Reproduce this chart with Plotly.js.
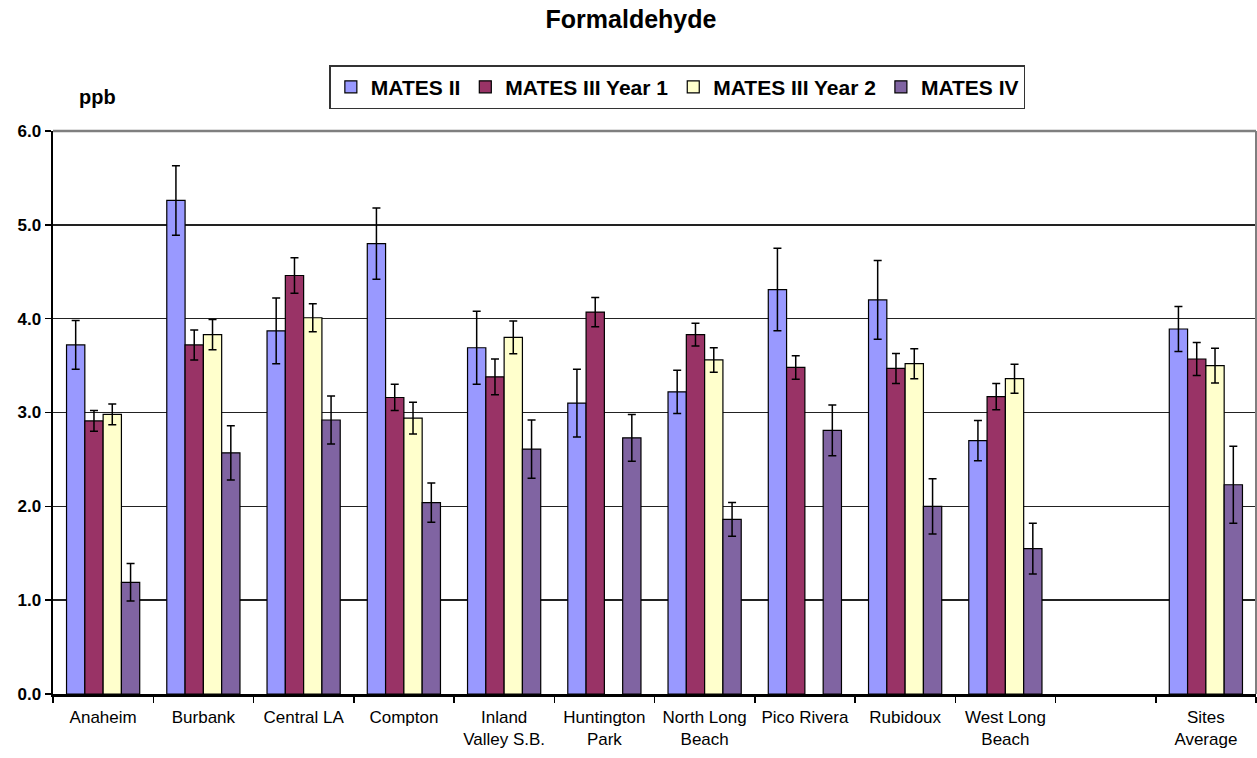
<!DOCTYPE html>
<html>
<head>
<meta charset="utf-8">
<script src="https://cdn.plot.ly/plotly-3.0.1.min.js"></script>
<style>
html,body{margin:0;padding:0;background:#fff;}
#chart{width:1257px;height:758px;}
</style>
</head>
<body>
<div id="chart"></div>
<script>
const categories = ["Anaheim","Burbank","Central LA","Compton","Inland<br>Valley S.B.","Huntington<br>Park","North Long<br>Beach","Pico Rivera","Rubidoux","West Long<br>Beach"," ","Sites<br>Average"];
const seriesNames = ["MATES II","MATES III Year 1","MATES III Year 2","MATES IV"];
const matesII      = [3.72, 5.26, 3.87, 4.80, 3.69, 3.10, 3.22, 4.31, 4.20, 2.70, null, 3.89];
const matesIIErr   = [0.26, 0.37, 0.35, 0.38, 0.39, 0.36, 0.23, 0.44, 0.42, 0.215, 0, 0.24];
const matesIIIY1   = [2.91, 3.72, 4.46, 3.16, 3.38, 4.07, 3.83, 3.48, 3.47, 3.17, null, 3.57];
const matesIIIY1Err= [0.11, 0.16, 0.19, 0.14, 0.19, 0.155, 0.12, 0.125, 0.16, 0.14, 0, 0.175];
const matesIIIY2   = [2.98, 3.83, 4.01, 2.94, 3.80, null, 3.56, null, 3.52, 3.36, null, 3.50];
const matesIIIY2Err= [0.11, 0.16, 0.15, 0.17, 0.175, 0, 0.13, 0, 0.16, 0.155, 0, 0.185];
const matesIV      = [1.19, 2.57, 2.92, 2.04, 2.61, 2.73, 1.86, 2.81, 2.00, 1.55, null, 2.23];
const matesIVErr   = [0.20, 0.29, 0.255, 0.21, 0.31, 0.25, 0.18, 0.27, 0.295, 0.27, 0, 0.41];
const yTickVals = [0,1,2,3,4,5,6];

const colors = ["#9999FF","#993366","#FFFFCC","#8064A2"];
const values = [matesII, matesIIIY1, matesIIIY2, matesIV];
const errs = [matesIIErr, matesIIIY1Err, matesIIIY2Err, matesIVErr];

const traces = seriesNames.map((name,i)=>({
  type:'bar',
  name:name,
  x:categories,
  y:values[i],
  marker:{color:colors[i], line:{color:'#000', width:1.2}},
  error_y:{type:'data', array:errs[i], visible:true, color:'#000', thickness:1.5, width:4}
}));

const layout = {
  width:1257, height:758,
  margin:{l:53, r:1, t:131, b:64, pad:0},
  paper_bgcolor:'#fff', plot_bgcolor:'#fff',
  barmode:'group', bargap:0.27, bargroupgap:0,
  font:{family:'"Liberation Sans", Arial, sans-serif', color:'#000'},
  title:{text:'<b>Formaldehyde</b>', font:{size:25, family:'"Liberation Sans", Arial, sans-serif', color:'#000'},
         x:0.502, xref:'container', y:0.975, yref:'container', yanchor:'middle', xanchor:'center'},
  showlegend:true,
  legend:{orientation:'h', x:0.519, xanchor:'center', y:1.117, yanchor:'top',
          bordercolor:'#333', borderwidth:1.5, bgcolor:'#fff',
          font:{size:21, family:'"Liberation Sans", Arial, sans-serif', color:'#000', weight:'bold'},
          traceorder:'normal', itemclick:false},
  xaxis:{type:'category', categoryorder:'array', categoryarray:categories,
         showline:true, linecolor:'#000', linewidth:2.5, tickangle:0,
         ticks:'outside', tickson:'boundaries', ticklen:6, tickcolor:'#000', tickwidth:1.5,
         showgrid:false, zeroline:false, ticklabelstandoff:6,
         tickfont:{size:17, family:'"Liberation Sans", Arial, sans-serif', color:'#000'}},
  yaxis:{range:[0,6], tickvals:yTickVals, tickformat:'.1f',
         showline:true, linecolor:'#000', linewidth:2.5,
         ticks:'outside', ticklen:6, tickcolor:'#000', tickwidth:1.5,
         showgrid:true, gridcolor:'#222', gridwidth:1.5, zeroline:false,
         tickfont:{size:17, family:'"Liberation Sans", Arial, sans-serif', color:'#000', weight:'bold'}},
  shapes:[
    {type:'line', xref:'paper', yref:'paper', x0:0, x1:1, y0:1, y1:1, line:{color:'#7f7f7f', width:2.5}},
    {type:'line', xref:'paper', yref:'paper', x0:1, x1:1, y0:0, y1:1, line:{color:'#7f7f7f', width:2}}
  ],
  annotations:[
    {text:'<b>ppb</b>', xref:'paper', yref:'paper', x:0.0372, y:1.06, xanchor:'center', yanchor:'middle',
     showarrow:false, font:{size:20, family:'"Liberation Sans", Arial, sans-serif', color:'#000'}}
  ]
};

Plotly.newPlot('chart', traces, layout, {displayModeBar:false, staticPlot:true});
</script>
</body>
</html>
